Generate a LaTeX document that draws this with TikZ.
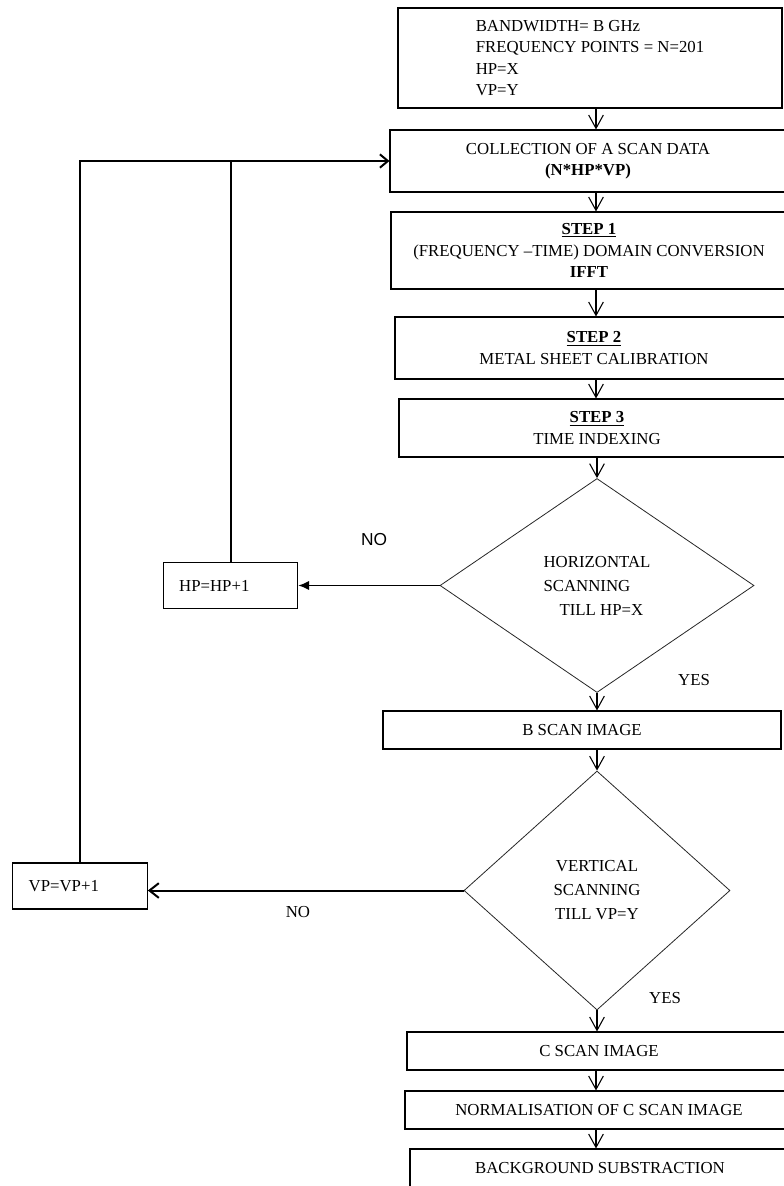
\documentclass[tikz,border=0pt]{standalone}
\usepackage{fontspec}
\setmainfont{Liberation Serif}
\setsansfont{Liberation Sans}
\usetikzlibrary{shapes.geometric,arrows.meta}

\begin{document}
\begin{tikzpicture}[
  x=0.75pt, y=-0.75pt,
  font=\fontsize{12.6}{16}\selectfont,
  box/.style={draw, line width=0.8pt, align=center, inner sep=0pt},
  decision/.style={draw=black!85, diamond, line width=0.6pt, inner sep=0pt,
    font=\fontsize{12.6}{18}\selectfont},
  incbox/.style={draw, line width=0.8pt, align=left, inner xsep=12pt, inner ysep=0pt,
    text width=77pt, minimum height=34.5pt},
  arrow/.style={-{Straight Barb[length=10pt,width=11pt]}, line width=0.8pt},
  loopline/.style={line width=1.5pt},
  loopin/.style={loopline, -{Straight Barb[length=6pt,width=10pt,line width=1.5pt]}},
  label/.style={font=\fontsize{12.6}{15}\selectfont}
]
\useasboundingbox (0,0) rectangle (784,1186);
\coordinate (axis) at (596,0);

\node[box, align=left, minimum width=288pt, minimum height=75pt] (params) at (590,58)
  {BANDWIDTH= B GHz\\FREQUENCY POINTS = N=201\\HP=X\\VP=Y};
\node[box, minimum width=297pt, minimum height=46.5pt] (collect) at (588,161)
  {COLLECTION OF A SCAN DATA\\\textbf{(N*HP*VP)}};
\node[box, minimum width=297pt, minimum height=57.75pt] (step1) at (589,250.5)
  {\underline{\textbf{STEP 1}}\\(FREQUENCY –TIME) DOMAIN CONVERSION\\\textbf{IFFT}};
\node[box, minimum width=298.5pt, minimum height=46.5pt] (step2) at (594,348)
  {\underline{\textbf{STEP 2}}\\METAL SHEET CALIBRATION};
\node[box, minimum width=297pt, minimum height=43.5pt] (step3) at (597,428)
  {\underline{\textbf{STEP 3}}\\TIME INDEXING};
\node[decision, align=left, minimum width=235.5pt, minimum height=160.5pt] (hdec) at (597,585.5)
  {HORIZONTAL\\SCANNING\\\hspace*{12pt}TILL HP=X};
\node[incbox] (hpinc) at (230.5,585.5) {HP=HP+1};
\node[box, minimum width=298.5pt, minimum height=28.5pt] (bscan) at (582,730) {B SCAN IMAGE};
\node[decision, align=center, minimum width=199.5pt, minimum height=179.25pt] (vdec) at (597,890.5)
  {VERTICAL\\SCANNING\\TILL VP=Y};
\node[incbox] (vpinc) at (80,886) {VP=VP+1};
\node[box, minimum width=288pt, minimum height=28.5pt] (cscan) at (599,1051) {C SCAN IMAGE};
\node[box, minimum width=291pt, minimum height=28.5pt] (norm) at (599,1110)
  {NORMALISATION OF C SCAN IMAGE};
\node[box, minimum width=285pt, minimum height=28.5pt] (bgsub) at (600,1168)
  {BACKGROUND SUBSTRACTION};

% labels on the branches
\node[label, font=\sffamily\fontsize{13}{15}\selectfont] (hno) at (374,540) {NO};
\node[label] (hyes) at (694,680) {YES};
\node[label] (vno) at (298,912) {NO};
\node[label] (vyes) at (665,998) {YES};

% main column
\draw[arrow] (params.south -| axis) -- (collect.north -| axis);
\draw[arrow] (collect.south -| axis) -- (step1.north -| axis);
\draw[arrow] (step1.south -| axis) -- (step2.north -| axis);
\draw[arrow] (step2.south -| axis) -- (step3.north -| axis);
\draw[arrow] (step3.south -| hdec.north) -- (hdec.north);
\draw[arrow] (hdec.south) -- (bscan.north -| hdec.south);
\draw[arrow] (bscan.south -| vdec.north) -- (vdec.north);
\draw[arrow] (vdec.south) -- (cscan.north -| vdec.south);
\draw[arrow] (cscan.south -| axis) -- (norm.north -| axis);
\draw[arrow] (norm.south -| axis) -- (bgsub.north -| axis);

% NO branches and loops back
\draw[line width=1pt, -{Latex[length=8pt,width=7pt]}] (hdec.west) -- (hdec.west -| hpinc.east);
\draw[loopline, -{Straight Barb[length=7pt,width=11pt,line width=1.5pt]}] (vdec.west) -- (vdec.west -| vpinc.east);
\draw[loopin] (vpinc.north) |- (collect.west);
\draw[loopline] (hpinc.north) -- (hpinc.north |- collect.west);
\end{tikzpicture}
\end{document}
